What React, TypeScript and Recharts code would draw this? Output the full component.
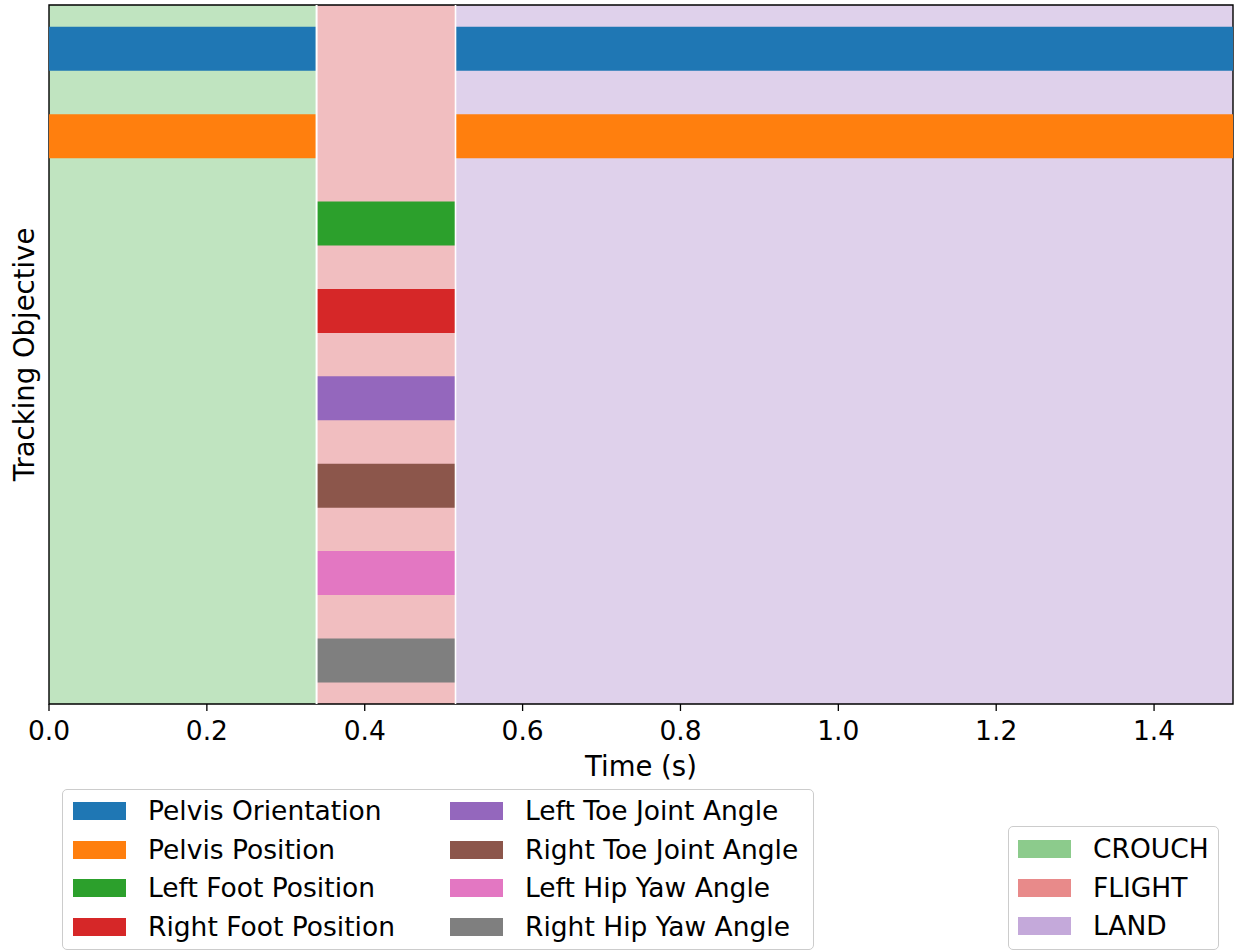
import React from 'react';
import { BarChart, Bar, XAxis, YAxis, Cell, ReferenceArea, ReferenceLine } from 'recharts';

const objectives = [
  'Pelvis Orientation',
  'Pelvis Position',
  'Left Foot Position',
  'Right Foot Position',
  'Left Toe Joint Angle',
  'Right Toe Joint Angle',
  'Left Hip Yaw Angle',
  'Right Hip Yaw Angle',
];
const objectiveColors = ['#1f77b4', '#ff7f0e', '#2ca02c', '#d62728', '#9467bd', '#8c564b', '#e377c2', '#7f7f7f'];
// 1 = objective is tracked in that phase (CROUCH, FLIGHT, LAND)
const activePhases = [
  [1, 0, 1],
  [1, 0, 1],
  [0, 1, 0],
  [0, 1, 0],
  [0, 1, 0],
  [0, 1, 0],
  [0, 1, 0],
  [0, 1, 0],
];
const phases = ['CROUCH', 'FLIGHT', 'LAND'];
const phaseKeys = ['crouch', 'flight', 'land'];
const phaseStart = [0, 0.339, 0.515];
const phaseEnd = [0.339, 0.515, 1.5];
const phaseFill = ['#c0e4c0', '#f1bec0', '#dfd1eb'];
const phaseLegendFill = ['#8ccb8c', '#e88a8a', '#c4a9da'];
const timeTicks = [0, 0.2, 0.4, 0.6, 0.8, 1.0, 1.2, 1.4];

const FONT = '"DejaVu Sans", sans-serif';
const FS = 26.5;
const LABEL_FS = 27.5;

const data = objectives.map((name) => {
  const row: Record<string, string | number> = { name };
  phaseKeys.forEach((k, p) => {
    row[k] = phaseEnd[p] - phaseStart[p];
  });
  return row;
});

const LegendRow = ({ left, top, color, label, textLeft }: any) => (
  <>
    <div
      style={{
        position: 'absolute',
        left,
        top: top - 9,
        width: 53,
        height: 18,
        background: color,
      }}
    />
    <div
      style={{
        position: 'absolute',
        left: textLeft,
        top: top - 15,
        height: 30,
        lineHeight: '30px',
        fontSize: FS,
        fontFamily: FONT,
        whiteSpace: 'nowrap',
        color: '#000',
      }}
    >
      {label}
    </div>
  </>
);

const boxStyle: React.CSSProperties = {
  position: 'absolute',
  border: '1.5px solid #cccccc',
  borderRadius: 5,
  background: '#fff',
  boxSizing: 'border-box',
};

const App: React.FC = () => {
  const rowCenters = [21, 59.5, 98, 136.5];
  return (
    <div style={{ position: 'absolute', left: 0, top: 0, width: 1235, height: 951, background: '#fff' }}>
      <BarChart
        width={1235}
        height={951}
        data={data}
        layout="vertical"
        margin={{ top: 5, right: 2, left: 0, bottom: 175 }}
        barCategoryGap="25%"
      >
        <XAxis
          type="number"
          domain={[0, 1.5]}
          ticks={timeTicks}
          tickFormatter={(v: number) => v.toFixed(1)}
          axisLine={false}
          tickLine={{ stroke: '#000', strokeWidth: 1.3 }}
          tickSize={7}
          tickMargin={10}
          tick={{ fill: '#000', fontSize: FS, fontFamily: FONT }}
          height={72}
          allowDataOverflow
          label={{ value: 'Time (s)', position: 'insideBottom', offset: 0, fill: '#000', fontSize: LABEL_FS, fontFamily: FONT }}
        />
        <YAxis
          type="category"
          dataKey="name"
          width={49}
          tick={false}
          tickLine={false}
          axisLine={false}
          label={{ value: 'Tracking Objective', angle: -90, position: 'center', fill: '#000', fontSize: LABEL_FS, fontFamily: FONT }}
        />
        {phases.map((p, i) => (
          <ReferenceArea
            key={p}
            x1={phaseStart[i]}
            x2={phaseEnd[i]}
            fill={phaseFill[i]}
            fillOpacity={1}
            stroke="none"
          />
        ))}
        {phaseKeys.map((k, p) => (
          <Bar key={k} dataKey={k} stackId="s" isAnimationActive={false}>
            {objectives.map((o, i) => (
              <Cell key={o} fill={activePhases[i][p] ? objectiveColors[i] : 'transparent'} />
            ))}
          </Bar>
        ))}
        <ReferenceLine x={phaseStart[1]} stroke="#fff" strokeWidth={2} />
        <ReferenceLine x={phaseStart[2]} stroke="#fff" strokeWidth={1.6} />
        <ReferenceArea x1={0} x2={1.5} fill="none" stroke="#000" strokeWidth={1.4} />
      </BarChart>

      <div style={{ ...boxStyle, left: 62, top: 789, width: 752, height: 161 }}>
        {objectives.map((o, i) => {
          const col = i < 4 ? 0 : 1;
          const r = i % 4;
          return (
            <LegendRow
              key={o}
              left={col === 0 ? 10 : 387}
              textLeft={col === 0 ? 85 : 462}
              top={rowCenters[r]}
              color={objectiveColors[i]}
              label={o}
            />
          );
        })}
      </div>

      <div style={{ ...boxStyle, left: 1008, top: 826, width: 211, height: 124 }}>
        {phases.map((p, i) => (
          <LegendRow
            key={p}
            left={9}
            textLeft={84}
            top={22 + i * 38.5}
            color={phaseLegendFill[i]}
            label={p}
          />
        ))}
      </div>
    </div>
  );
};

export default App;
